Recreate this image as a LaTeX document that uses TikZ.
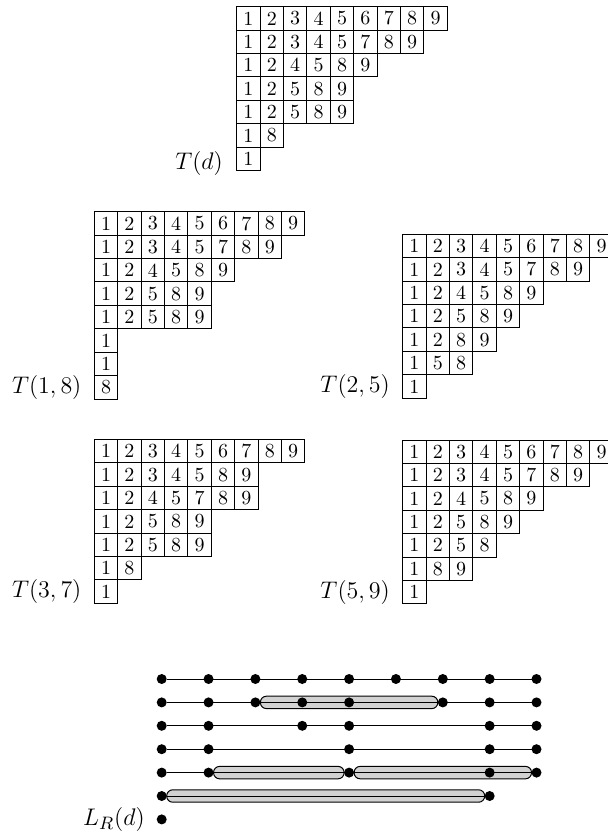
\documentclass[tikz,border=0pt]{standalone}
\usepackage{tikz}
\usetikzlibrary{positioning, backgrounds}

\newcommand{\cellpx}{23.4}
% one tableau: name, top left corner, rows
\newcommand{\drawtableau}[4]{%
  \foreach \row [count=\i] in {#4}
    \foreach \e [count=\j] in \row
      \node[cell] (#1-\i-\j) at ({#2+(\j-0.5)*\cellpx}, {#3+(\i-0.5)*\cellpx}) {\e};%
}

\begin{document}
\begin{tikzpicture}[x=0.5pt, y=-0.5pt,
    cell/.style={draw, line width=0.5pt, minimum size=11.7pt, inner sep=0pt,
        font=\fontsize{10}{12}\selectfont},
    tlabel/.style={inner sep=0pt, font=\fontsize{13}{16}\selectfont},
    dot/.style={circle, fill=black, inner sep=0pt, outer sep=0pt, minimum size=5pt},
    rowline/.style={line width=0.5pt},
    capsule/.style={draw, line width=0.5pt, fill=gray!35, rounded corners=3pt}
]
\useasboundingbox (0,0) rectangle (608,833);

% tableaux
\drawtableau{td}{236.7}{6.7}{{1,2,3,4,5,6,7,8,9},{1,2,3,4,5,7,8,9},{1,2,4,5,8,9},
    {1,2,5,8,9},{1,2,5,8,9},{1,8},{1}}
\drawtableau{ta}{94.3}{211.8}{{1,2,3,4,5,6,7,8,9},{1,2,3,4,5,7,8,9},{1,2,4,5,8,9},
    {1,2,5,8,9},{1,2,5,8,9},{1},{1},{8}}
\drawtableau{tb}{402.7}{234.3}{{1,2,3,4,5,6,7,8,9},{1,2,3,4,5,7,8,9},{1,2,4,5,8,9},
    {1,2,5,8,9},{1,2,8,9},{1,5,8},{1}}
\drawtableau{tc}{94.3}{439.5}{{1,2,3,4,5,6,7,8,9},{1,2,3,4,5,8,9},{1,2,4,5,7,8,9},
    {1,2,5,8,9},{1,2,5,8,9},{1,8},{1}}
\drawtableau{te}{402.7}{440}{{1,2,3,4,5,6,7,8,9},{1,2,3,4,5,7,8,9},{1,2,4,5,8,9},
    {1,2,5,8,9},{1,2,5,8},{1,8,9},{1}}

\node[tlabel, left=6.5pt of td-7-1, yshift=-2.5pt] (lbl-d) {$T(d)$};
\node[tlabel, left=6pt of ta-8-1] (lbl-a) {$T(1,8)$};
\node[tlabel, left=6pt of tb-7-1] (lbl-b) {$T(2,5)$};
\node[tlabel, left=6pt of tc-7-1] (lbl-c) {$T(3,7)$};
\node[tlabel, left=6pt of te-7-1] (lbl-e) {$T(5,9)$};

% dots of L_R(d)
\foreach \cols [count=\r] in {{1,2,3,4,5,6,7,8,9},{1,2,3,4,5,7,8,9},{1,2,4,5,8,9},
    {1,2,5,8,9},{1,2,5,8,9},{1,8},{1}}
  \foreach \c in \cols
    \node[dot] (d-\r-\c) at ({161.7+(\c-1)*46.85}, {679+(\r-1)*\cellpx}) {};

\begin{scope}[on background layer]
  \draw[capsule] ([yshift=3.1pt]d-2-3.east) rectangle ([yshift=-3.1pt]d-2-7.west);
  \draw[capsule] ([yshift=3.1pt]d-5-2.east) rectangle ([yshift=-3.1pt]d-5-5.west);
  \draw[capsule] ([yshift=3.1pt]d-5-5.east) rectangle ([yshift=-3.1pt]d-5-9.west);
  \draw[capsule] ([yshift=3.1pt]d-6-1.east) rectangle ([yshift=-3.1pt]d-6-8.west);
  \foreach \r in {1,...,5}
    \draw[rowline] (d-\r-1) -- (d-\r-9);
  \draw[rowline] (d-6-1) -- (d-6-8);
\end{scope}

\node[tlabel, left=5.8pt of d-7-1] (lbl-lr) {$L_R(d)$};
\end{tikzpicture}
\end{document}
